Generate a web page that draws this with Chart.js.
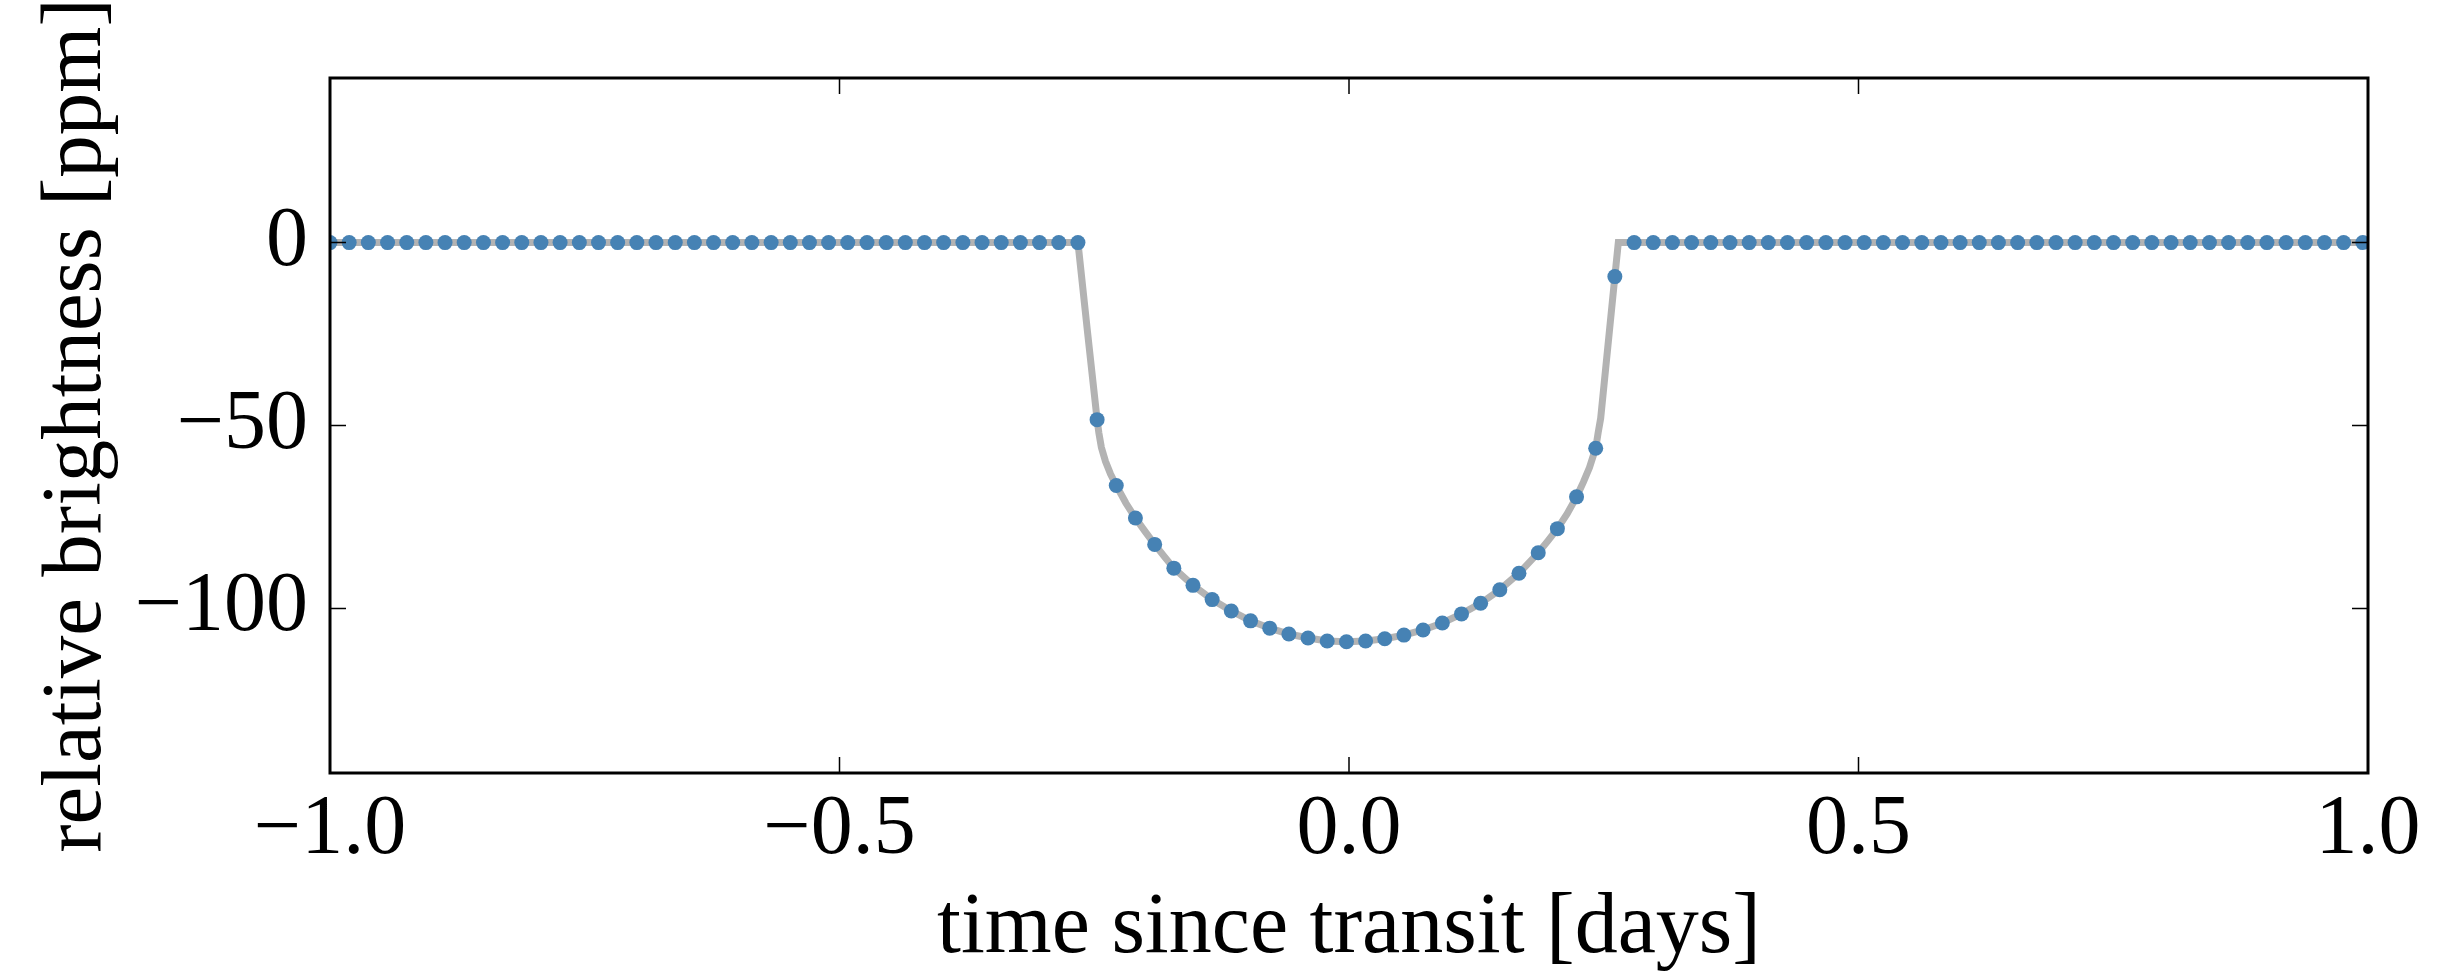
<!DOCTYPE html>
<html>
<head>
<meta charset="utf-8">
<script src="https://cdn.jsdelivr.net/npm/chart.js@4.4.0/dist/chart.umd.min.js"></script>
<style>
  body { margin: 0; background: #fff; }
  canvas { display: block; }
</style>
</head>
<body>
<canvas id="chartTransit" width="2451" height="978"></canvas>
<script>
// observed points, time since transit [days]
const times = [
  -1.0000, -0.9812, -0.9624, -0.9435, -0.9247, -0.9059, -0.8871, -0.8683, -0.8494, -0.8306,
  -0.8118, -0.7930, -0.7742, -0.7553, -0.7365, -0.7177, -0.6989, -0.6801, -0.6612, -0.6424,
  -0.6236, -0.6048, -0.5860, -0.5671, -0.5483, -0.5295, -0.5107, -0.4919, -0.4730, -0.4542,
  -0.4354, -0.4166, -0.3978, -0.3789, -0.3601, -0.3413, -0.3225, -0.3037, -0.2848, -0.2660,
  -0.2472, -0.2284, -0.2096, -0.1907, -0.1719, -0.1531, -0.1343, -0.1155, -0.0966, -0.0778,
  -0.0590, -0.0402, -0.0214, -0.0025, 0.0163, 0.0351, 0.0539, 0.0727, 0.0916, 0.1104,
  0.1292, 0.1480, 0.1668, 0.1857, 0.2045, 0.2233, 0.2421, 0.2609, 0.2798, 0.2986,
  0.3174, 0.3362, 0.3550, 0.3739, 0.3927, 0.4115, 0.4303, 0.4491, 0.4680, 0.4868,
  0.5056, 0.5244, 0.5432, 0.5621, 0.5809, 0.5997, 0.6185, 0.6373, 0.6562, 0.6750,
  0.6938, 0.7126, 0.7314, 0.7503, 0.7691, 0.7879, 0.8067, 0.8255, 0.8444, 0.8632,
  0.8820, 0.9008, 0.9196, 0.9385, 0.9573, 0.9761, 0.9949
];

// relative brightness [ppm]
const brightness = [
  0, 0, 0, 0, 0, 0, 0, 0, 0, 0,
  0, 0, 0, 0, 0, 0, 0, 0, 0, 0,
  0, 0, 0, 0, 0, 0, 0, 0, 0, 0,
  0, 0, 0, 0, 0, 0, 0, 0, 0, 0,
  -48.4, -66.4, -75.3, -82.5, -89.0, -93.7, -97.6, -100.7, -103.4, -105.4,
  -107.0, -108.1, -108.9, -109.1, -108.9, -108.3, -107.3, -105.9, -104.0, -101.5,
  -98.6, -94.9, -90.4, -84.8, -78.2, -69.5, -56.2, -9.3, 0, 0,
  0, 0, 0, 0, 0, 0, 0, 0, 0, 0,
  0, 0, 0, 0, 0, 0, 0, 0, 0, 0,
  0, 0, 0, 0, 0, 0, 0, 0, 0, 0,
  0, 0, 0, 0, 0, 0, 0
];

// model curve (grey line)
const modelTimes = [
  -1.0, -0.2660, -0.2566, -0.2472, -0.2455, -0.2430, -0.2390, -0.2340, -0.2284, -0.2190,
  -0.2096, -0.2000, -0.1907, -0.1810, -0.1719, -0.1531, -0.1343, -0.1155, -0.0966, -0.0778,
  -0.0590, -0.0402, -0.0214, -0.0025, 0.0163, 0.0351, 0.0539, 0.0727, 0.0916, 0.1104,
  0.1292, 0.1480, 0.1668, 0.1857, 0.1950, 0.2045, 0.2140, 0.2233, 0.2300, 0.2360,
  0.2421, 0.2445, 0.2470, 0.2609, 0.2643, 1.0
];
const modelBrightness = [
  0, 0, -24.5, -48.4, -52.0, -56.0, -59.8, -63.3, -66.4, -71.2,
  -75.3, -79.0, -82.5, -85.9, -89.0, -93.7, -97.6, -100.7, -103.4, -105.4,
  -107.0, -108.1, -108.9, -109.1, -108.9, -108.3, -107.3, -105.9, -104.0, -101.5,
  -98.6, -94.9, -90.4, -84.8, -81.6, -78.2, -74.2, -69.5, -65.5, -61.5,
  -56.2, -52.0, -48.0, -9.3, 0, 0
];

const xTicks = [-1, -0.5, 0, 0.5, 1];
const yTicks = [-100, -50, 0];

const serif = 'Liberation Serif, DejaVu Serif, serif';

function minusSign(s) {
    return s.replace('-', '\u2212');
}

// black frame with inward ticks on all four sides
const frameAndTicks = {
    id: 'frameAndTicks',
    afterDraw(chart) {
        const ctx = chart.ctx;
        const area = chart.chartArea;
        const xs = chart.scales.x;
        const ys = chart.scales.y;
        ctx.save();
        ctx.strokeStyle = '#000';
        ctx.lineWidth = 1.5;
        ctx.beginPath();
        xTicks.forEach(function (v) {
            const px = xs.getPixelForValue(v);
            ctx.moveTo(px, area.bottom);
            ctx.lineTo(px, area.bottom - 16);
            ctx.moveTo(px, area.top);
            ctx.lineTo(px, area.top + 16);
        });
        yTicks.forEach(function (v) {
            const py = ys.getPixelForValue(v);
            ctx.moveTo(area.left, py);
            ctx.lineTo(area.left + 16, py);
            ctx.moveTo(area.right, py);
            ctx.lineTo(area.right - 16, py);
        });
        ctx.stroke();
        ctx.lineWidth = 3;
        ctx.strokeRect(area.left, area.top, area.right - area.left, area.bottom - area.top);
        ctx.restore();
    }
};

let chartTransit = new Chart(document.getElementById('chartTransit'), {
    type: 'scatter',
    data: {
        datasets: [
            {
                label: 'model',
                data: modelTimes.map(function (t, i) { return {x: t, y: modelBrightness[i]}; }),
                showLine: true,
                borderColor: '#b3b3b3',
                borderWidth: 7,
                pointRadius: 0,
                tension: 0,
                clip: 0,
                order: 2
            },
            {
                label: 'data',
                data: times.map(function (t, i) { return {x: t, y: brightness[i]}; }),
                showLine: false,
                backgroundColor: '#4682b4',
                borderWidth: 0,
                pointRadius: 7.5,
                clip: 0,
                order: 1
            }
        ]
    },
    options: {
        responsive: false,
        animation: false,
        layout: {padding: {top: 78, right: 83, left: 0, bottom: 0}},
        plugins: {
            legend: {display: false},
            tooltip: {enabled: false}
        },
        scales: {
            x: {
                type: 'linear',
                min: -1,
                max: 1,
                afterBuildTicks: function (scale) {
                    scale.ticks = xTicks.map(function (v) { return {value: v}; });
                },
                afterFit: function (scale) { scale.height = 205; },
                grid: {display: false, drawTicks: false},
                border: {display: false},
                ticks: {
                    color: '#000',
                    font: {family: serif, size: 84},
                    padding: 8,
                    autoSkip: false,
                    maxRotation: 0,
                    callback: function (v) { return minusSign(v.toFixed(1)); }
                },
                title: {
                    display: true,
                    text: 'time since transit [days]',
                    color: '#000',
                    font: {family: serif, size: 86, lineHeight: 1},
                    padding: {top: 0, bottom: 6}
                }
            },
            y: {
                type: 'linear',
                min: -145,
                max: 45,
                afterBuildTicks: function (scale) {
                    scale.ticks = yTicks.map(function (v) { return {value: v}; });
                },
                afterFit: function (scale) { scale.width = 330; },
                grid: {display: false, drawTicks: false},
                border: {display: false},
                ticks: {
                    color: '#000',
                    font: {family: serif, size: 84},
                    padding: 22,
                    callback: function (v) { return minusSign(String(v)); }
                },
                title: {
                    display: true,
                    text: 'relative brightness [ppm]',
                    color: '#000',
                    font: {family: serif, size: 85, lineHeight: 1},
                    padding: {top: 35, bottom: 0}
                }
            }
        }
    },
    plugins: [frameAndTicks]
});
</script>
</body>
</html>
